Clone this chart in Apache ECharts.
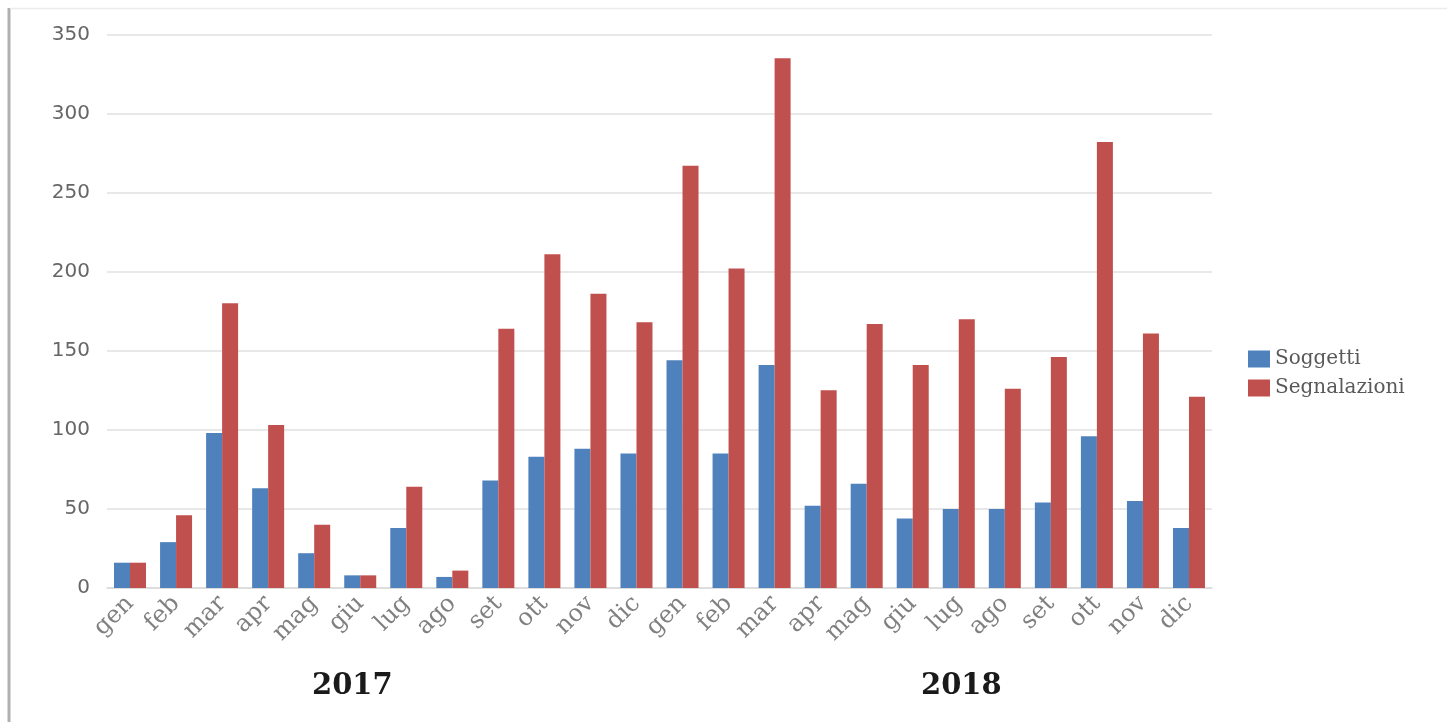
<!DOCTYPE html>
<html>
<head>
<meta charset="utf-8">
<script src="https://cdn.jsdelivr.net/npm/echarts@6/dist/echarts.min.js"></script>
<style>
  html, body { margin: 0; padding: 0; background: #fff; }
  #chart { width: 1447px; height: 722px; }
</style>
</head>
<body>
<div id="chart"></div>
<script>
const months = ['gen', 'feb', 'mar', 'apr', 'mag', 'giu', 'lug', 'ago', 'set', 'ott', 'nov', 'dic',
  'gen', 'feb', 'mar', 'apr', 'mag', 'giu', 'lug', 'ago', 'set', 'ott', 'nov', 'dic']
const years = ['2017', '2018']
const soggetti = [16, 29, 98, 63, 22, 8, 38, 7, 68, 83, 88, 85,
  144, 85, 141, 52, 66, 44, 50, 50, 54, 96, 55, 38]
const segnalazioni = [16, 46, 180, 103, 40, 8, 64, 11, 164, 211, 186, 168,
  267, 202, 335, 125, 167, 141, 170, 126, 146, 282, 161, 121]

const chart = echarts.init(document.getElementById('chart'))

const options = {
  backgroundColor: '#fff',
  animation: false,
  grid: {
    left: 107,
    right: 235,
    top: 34.5,
    bottom: 134,
    containLabel: false,
  },
  legend: {
    orient: 'vertical',
    left: 1243,
    top: 344,
    icon: 'rect',
    itemWidth: 22,
    itemHeight: 17,
    itemGap: 9,
    data: ['Soggetti', 'Segnalazioni'],
    textStyle: {
      fontFamily: 'DejaVu Serif',
      fontSize: 20,
      color: '#595959',
    },
  },
  xAxis: {
    type: 'category',
    data: months,
    axisTick: { show: false },
    axisLine: { lineStyle: { color: '#d9d9d9', width: 1.5 } },
    axisLabel: {
      interval: 0,
      rotate: 45,
      margin: 12,
      fontFamily: 'DejaVu Serif',
      fontSize: 24,
      color: '#808080',
    },
  },
  yAxis: {
    type: 'value',
    min: 0,
    max: 350,
    interval: 50,
    axisLine: { show: false },
    axisTick: { show: false },
    axisLabel: {
      margin: 17,
      fontFamily: 'DejaVu Sans',
      fontSize: 20,
      color: '#666666',
    },
    splitLine: { lineStyle: { color: '#e0e0e0', width: 1.5 } },
  },
  graphic: [
    { type: 'line', shape: { x1: 9, y1: 8, x2: 9, y2: 722 }, style: { stroke: '#b0b0b0', lineWidth: 3 } },
    { type: 'line', shape: { x1: 10, y1: 8.5, x2: 1447, y2: 8.5 }, style: { stroke: '#ececec', lineWidth: 1.5 } },
    { type: 'text', left: 312, top: 672, style: { text: years[0], font: 'bold 29px "DejaVu Serif"', fill: '#1a1a1a' } },
    { type: 'text', left: 921, top: 672, style: { text: years[1], font: 'bold 29px "DejaVu Serif"', fill: '#1a1a1a' } },
  ],
  series: [
    {
      name: 'Soggetti',
      type: 'bar',
      data: soggetti,
      barWidth: 16,
      barGap: '0%',
      itemStyle: { color: '#4f81bd' },
    },
    {
      name: 'Segnalazioni',
      type: 'bar',
      data: segnalazioni,
      barWidth: 16,
      barGap: '0%',
      itemStyle: { color: '#c0504d' },
    },
  ],
}

chart.setOption(options, true)
</script>
</body>
</html>
